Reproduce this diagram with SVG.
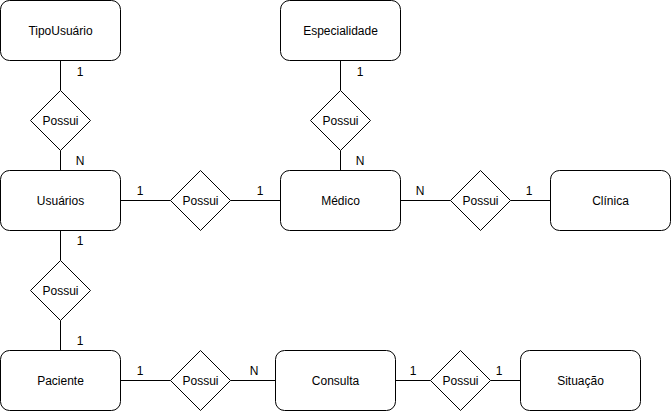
<svg xmlns="http://www.w3.org/2000/svg" width="671" height="411" viewBox="0 0 671 411">
<style>
.e{fill:#fff;stroke:#000;stroke-width:1}
.r{fill:#fff;stroke:#000;stroke-width:1}
.c{stroke:#000;stroke-width:1;fill:none}
text{font-family:"Liberation Sans",Arial,sans-serif;font-size:12px;fill:#000}
.m{text-anchor:middle;dominant-baseline:central}
</style>
<rect width="671" height="411" fill="#fff"/>
<g id="connectors">
<path class="c" d="M60.5 60.5V90.5M60.5 150.5V170.5"/>
<path class="c" d="M340.5 60.5V90.5M340.5 150.5V170.5"/>
<path class="c" d="M60.5 230.5V260.5M60.5 320.5V350.5"/>
<path class="c" d="M120.5 200.5H170.5M230.5 200.5H280.5"/>
<path class="c" d="M400.5 200.5H450.5M510.5 200.5H550.5"/>
<path class="c" d="M120.5 380.5H170.5M230.5 380.5H275.5"/>
<path class="c" d="M395.5 380.5H430.5M490.5 380.5H520.5"/>
<text x="80" y="76" text-anchor="middle">1</text>
<text x="80" y="165" text-anchor="middle">N</text>
<text x="360" y="76" text-anchor="middle">1</text>
<text x="360" y="165" text-anchor="middle">N</text>
<text x="80" y="245" text-anchor="middle">1</text>
<text x="80" y="345" text-anchor="middle">1</text>
<text x="140" y="195" text-anchor="middle">1</text>
<text x="260" y="195" text-anchor="middle">1</text>
<text x="420" y="195" text-anchor="middle">N</text>
<text x="529" y="195" text-anchor="middle">1</text>
<text x="140" y="375" text-anchor="middle">1</text>
<text x="254" y="375" text-anchor="middle">N</text>
<text x="413" y="375" text-anchor="middle">1</text>
<text x="499" y="375" text-anchor="middle">1</text>
</g>
<g id="tipousuario"><rect class="e" x="0.5" y="0.5" width="120" height="60" rx="9"/><text class="m" x="60.5" y="30.5">TipoUsuário</text></g>
<g id="especialidade"><rect class="e" x="280.5" y="0.5" width="120" height="60" rx="9"/><text class="m" x="340.5" y="30.5">Especialidade</text></g>
<g id="usuarios"><rect class="e" x="0.5" y="170.5" width="120" height="60" rx="9"/><text class="m" x="60.5" y="200.5">Usuários</text></g>
<g id="medico"><rect class="e" x="280.5" y="170.5" width="120" height="60" rx="9"/><text class="m" x="340.5" y="200.5">Médico</text></g>
<g id="clinica"><rect class="e" x="550.5" y="170.5" width="120" height="60" rx="9"/><text class="m" x="610.5" y="200.5">Clínica</text></g>
<g id="paciente"><rect class="e" x="0.5" y="350.5" width="120" height="60" rx="9"/><text class="m" x="60.5" y="380.5">Paciente</text></g>
<g id="consulta"><rect class="e" x="275.5" y="350.5" width="120" height="60" rx="9"/><text class="m" x="335.5" y="380.5">Consulta</text></g>
<g id="situacao"><rect class="e" x="520.5" y="350.5" width="120" height="60" rx="9"/><text class="m" x="580.5" y="380.5">Situação</text></g>
<g id="r1"><path class="r" d="M60.5 90.5L90.5 120.5L60.5 150.5L30.5 120.5Z"/><text class="m" x="60.5" y="120.5">Possui</text></g>
<g id="r2"><path class="r" d="M340.5 90.5L370.5 120.5L340.5 150.5L310.5 120.5Z"/><text class="m" x="340.5" y="120.5">Possui</text></g>
<g id="r3"><path class="r" d="M200.5 170.5L230.5 200.5L200.5 230.5L170.5 200.5Z"/><text class="m" x="200.5" y="200.5">Possui</text></g>
<g id="r4"><path class="r" d="M480.5 170.5L510.5 200.5L480.5 230.5L450.5 200.5Z"/><text class="m" x="480.5" y="200.5">Possui</text></g>
<g id="r5"><path class="r" d="M60.5 260.5L90.5 290.5L60.5 320.5L30.5 290.5Z"/><text class="m" x="60.5" y="290.5">Possui</text></g>
<g id="r6"><path class="r" d="M200.5 350.5L230.5 380.5L200.5 410.5L170.5 380.5Z"/><text class="m" x="200.5" y="380.5">Possui</text></g>
<g id="r7"><path class="r" d="M460.5 350.5L490.5 380.5L460.5 410.5L430.5 380.5Z"/><text class="m" x="460.5" y="380.5">Possui</text></g>
</svg>
